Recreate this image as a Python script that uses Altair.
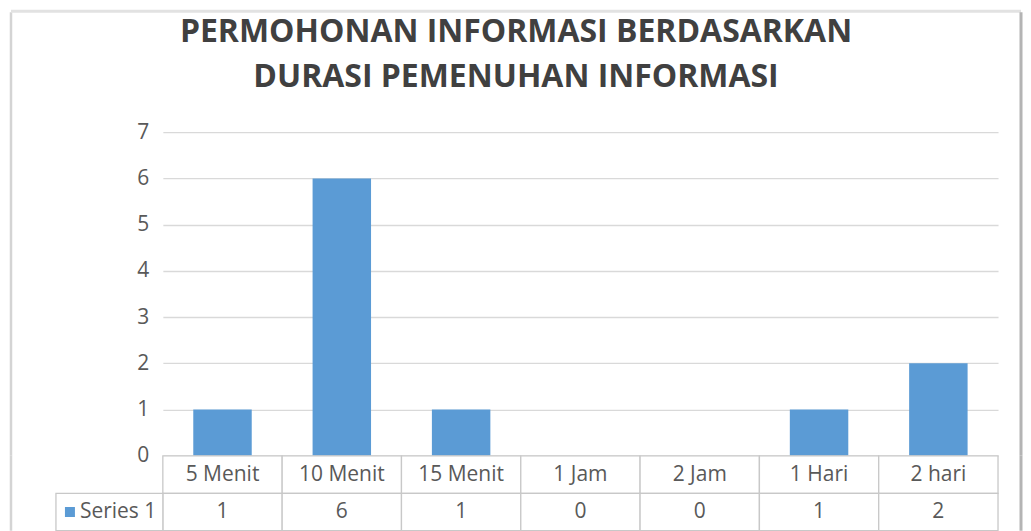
import altair as alt
import pandas as pd

categories = ["5 Menit", "10 Menit", "15 Menit", "1 Jam", "2 Jam", "1 Hari", "2 hari"]
values = [1, 6, 1, 0, 0, 1, 2]
series_name = "Series 1"
title_lines = ["PERMOHONAN INFORMASI BERDASARKAN", "DURASI PEMENUHAN INFORMASI"]
y_ticks = [0, 1, 2, 3, 4, 5, 6, 7]

BLUE = "#5B9BD5"
TEXT = "#595959"
GRID = "#D9D9D9"
LINE = "#C8C8C8"
FONT = "Open Sans"

df = pd.DataFrame({"cat": categories, "val": values})
one = pd.DataFrame({"s": [series_name]})
xscale = alt.Scale(domain=categories, paddingInner=0, paddingOuter=0)

bars = alt.Chart(df).mark_bar(color=BLUE, width=alt.RelativeBandSize(0.49)).encode(
    x=alt.X("cat:N", scale=xscale, axis=None, sort=categories),
    y=alt.Y("val:Q", scale=alt.Scale(domain=[0, 7], nice=False),
            axis=alt.Axis(values=y_ticks, title=None, grid=True, gridColor=GRID, gridWidth=1.4,
                          ticks=False, domain=False, labelFontSize=21, labelColor=TEXT,
                          labelFont=FONT, labelPadding=14)),
)

# decorative frame (border with light shadow) around the whole chart
FL, FR = -152, 859
frame_left = alt.Chart(one).mark_rule(color="#D4D4D4", strokeWidth=2.5).encode(
    x=alt.value(FL), y=alt.value(-120), y2=alt.value(324))
frame_top = alt.Chart(one).mark_rule(color="#E2E2E2", strokeWidth=3).encode(
    y=alt.value(-121), x=alt.value(FL), x2=alt.value(FR))
frame_right = alt.Chart(one).mark_rule(color="#B4B4B4", strokeWidth=3).encode(
    x=alt.value(FR), y=alt.value(-120), y2=alt.value(324))

top = alt.layer(bars, frame_left, frame_top, frame_right).properties(width=836, height=324)

table_rows = pd.DataFrame({
    "cat": categories * 2,
    "row": ["c"] * len(categories) + ["v"] * len(values),
    "txt": categories + [str(v) for v in values],
})

tbase = alt.Chart(table_rows).encode(
    x=alt.X("cat:N", scale=xscale, axis=None, sort=categories),
    y=alt.Y("row:N", scale=alt.Scale(domain=["c", "v"], paddingInner=0, paddingOuter=0), axis=None),
)
cells = tbase.mark_rect(fill="white", stroke=LINE, strokeWidth=1.3)
texts = tbase.mark_text(font=FONT, fontSize=21, color=TEXT).encode(text="txt:N")

hdr_cell = alt.Chart(one).mark_rect(fill="white", stroke=LINE, strokeWidth=1.3).encode(
    x=alt.value(-107), x2=alt.value(0), y=alt.value(37.5), y2=alt.value(75))
hdr_sq = alt.Chart(one).mark_square(color=BLUE, size=100, opacity=1).encode(
    x=alt.value(-93), y=alt.value(56.25))
hdr_txt = alt.Chart(one).mark_text(align="left", font=FONT, fontSize=21, color=TEXT).encode(
    x=alt.value(-83), y=alt.value(56.25), text="s:N")
tframe_left = alt.Chart(one).mark_rule(color="#D4D4D4", strokeWidth=2.5).encode(
    x=alt.value(FL), y=alt.value(0), y2=alt.value(75))
tframe_right = alt.Chart(one).mark_rule(color="#B4B4B4", strokeWidth=3).encode(
    x=alt.value(FR), y=alt.value(0), y2=alt.value(75))

table = alt.layer(cells, texts, hdr_cell, hdr_sq, hdr_txt, tframe_left, tframe_right).properties(
    width=836, height=75)

chart = alt.vconcat(top, table, spacing=0, bounds="flush").properties(
    title=alt.Title(title_lines, fontSize=32, font=FONT, fontWeight="bold", color="#404040",
                    anchor="middle", lineHeight=45, offset=-84),
    padding={"left": 1, "top": 1, "right": 0, "bottom": 0},
).configure_view(stroke=None)

chart.save("out.html", embed_options={"renderer": "svg", "actions": False})
